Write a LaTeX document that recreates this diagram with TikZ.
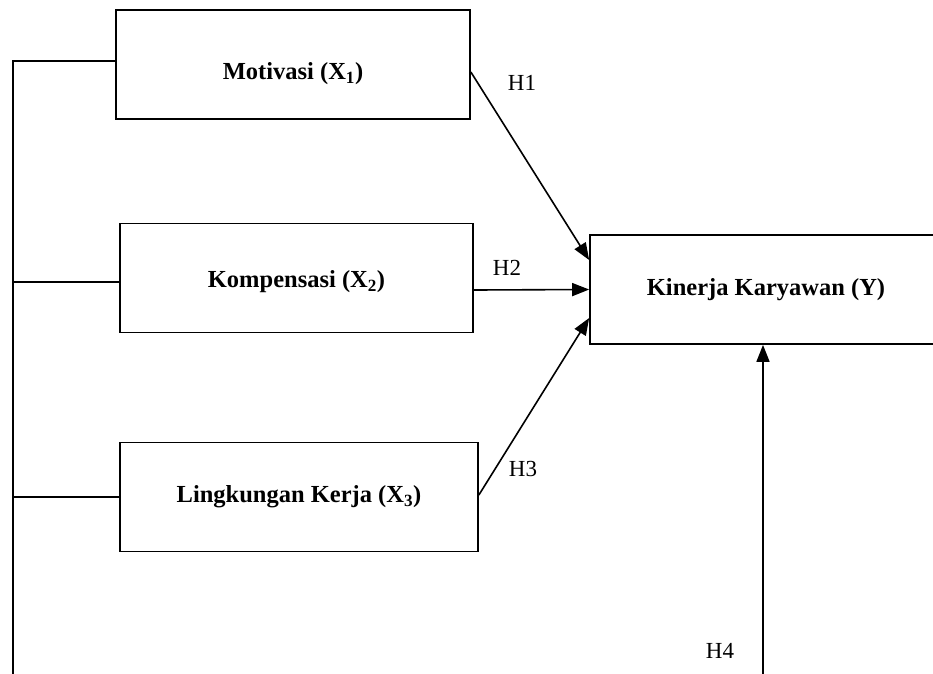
\documentclass[tikz,border=0pt]{standalone}
\usepackage{fontspec}
\setmainfont{Liberation Serif}
\usetikzlibrary{arrows.meta}
\tikzset{
  box/.style={draw, line width=1.7pt, inner sep=0pt, minimum height=109pt, font=\fontsize{24.5}{29}\selectfont\bfseries},
  arr/.style={line width=1.6pt, -{Triangle[length=17pt,width=13pt]}},
  ln/.style={line width=1.6pt},
  hlab/.style={font=\fontsize{23}{27}\selectfont, inner sep=0pt}
}
\begin{document}
\begin{tikzpicture}[x=1pt,y=-1pt]
\useasboundingbox (0,0) rectangle (933,673);
\node[box, minimum width=354pt] (mot) at (293,64.5) {};
\node[font=\fontsize{24.5}{29}\selectfont\bfseries, inner sep=0pt] (motl) at ([yshift=-9pt]mot.center) {Motivasi (X\textsubscript{1})};
\node[box, minimum width=353pt] (komp) at (296.5,278) {};
\node[font=\fontsize{24.5}{29}\selectfont\bfseries, inner sep=0pt] (kompl) at ([yshift=-4pt]komp.center) {Kompensasi (X\textsubscript{2})};
\node[box, minimum width=358pt] (ling) at (299,497) {Lingkungan Kerja (X\textsubscript{3})};
\node[box, minimum width=352pt] (kin) at (766,289.5) {Kinerja Karyawan (Y)};
% left spine
\coordinate (sTop) at (13,61);
\coordinate (sBot) at (13,680);
\draw[ln] (sBot) -- (sTop) -- (sTop -| mot.west);
\draw[ln] (13,282) coordinate (s2) -- (s2 -| komp.west);
\draw[ln] (13,497) coordinate (s3) -- (s3 -| ling.west);
% arrows
\draw[arr] ([yshift=-7.5pt]mot.east) -- ([yshift=29.5pt]kin.west);
\draw[arr] ([yshift=-12pt]komp.east) -- ([yshift=0pt]kin.west);
\draw[arr] ([yshift=2pt]ling.east) -- ([yshift=-28.5pt]kin.west);
\coordinate (h4s) at (763,680);
\draw[arr] (h4s) -- (h4s |- kin.south);
% labels
\node[hlab] (h1) at (522,83) {H1};
\node[hlab] (h2) at (507,268) {H2};
\node[hlab] (h3) at (523,469) {H3};
\node[hlab] (h4) at (720,651) {H4};
\end{tikzpicture}
\end{document}
